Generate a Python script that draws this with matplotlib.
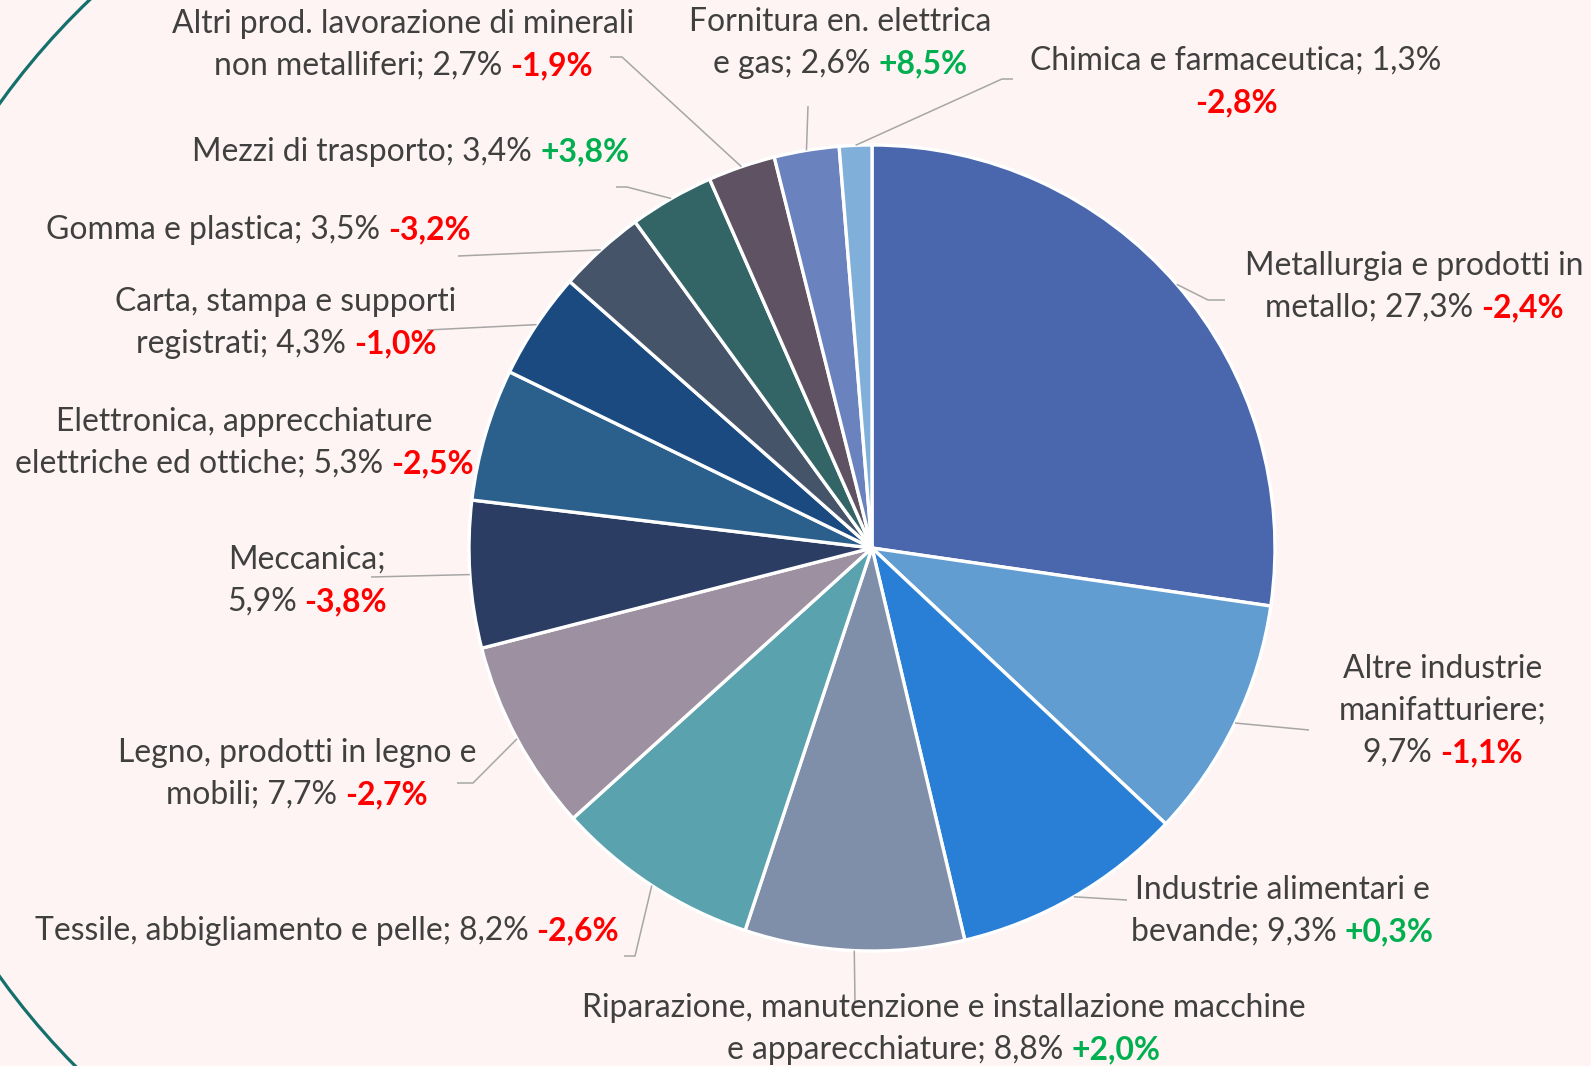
import numpy as np
import matplotlib
matplotlib.use("Agg")
import matplotlib.pyplot as plt
from matplotlib.patches import Arc

# ---------------- data ----------------
categories = [
    "Metallurgia e prodotti in metallo",
    "Altre industrie manifatturiere",
    "Industrie alimentari e bevande",
    "Riparazione, manutenzione e installazione macchine e apparecchiature",
    "Tessile, abbigliamento e pelle",
    "Legno, prodotti in legno e mobili",
    "Meccanica",
    "Elettronica, apprecchiature elettriche ed ottiche",
    "Carta, stampa e supporti registrati",
    "Gomma e plastica",
    "Mezzi di trasporto",
    "Altri prod. lavorazione di minerali non metalliferi",
    "Fornitura en. elettrica e gas",
    "Chimica e farmaceutica",
]
shares = [27.3, 9.7, 9.3, 8.8, 8.2, 7.7, 5.9, 5.3, 4.3, 3.5, 3.4, 2.7, 2.6, 1.3]
changes = [-2.4, -1.1, 0.3, 2.0, -2.6, -2.7, -3.8, -2.5, -1.0, -3.2, 3.8, -1.9, 8.5, -2.8]

# ---------------- style / layout ----------------
colors = ["#4A66AC", "#629DD1", "#297FD5", "#7F8FA9", "#5AA2AE", "#9D90A0",
          "#2C3D64", "#2B5F8C", "#1B4A80", "#465469", "#346566", "#5F5363",
          "#6A82BE", "#80B0DA"]
BG = "#FEF4F3"
GREY = "#404040"
RED = "#FF0000"
GREEN = "#00B050"
LEADER = "#A6A6A6"
FONT = "Lato"

W, H = 1591, 1066
CX, CY, R = 872, 548, 403

# word breaks for the name part, and where the numbers go
wraps = [
    ([4, 1], "same"),
    ([2, 1], "newline"),
    ([3, 1], "same"),
    ([5, 2], "same"),
    ([5], "same"),
    ([5, 1], "same"),
    ([1], "newline"),
    ([2, 3], "same"),
    ([4, 1], "same"),
    ([3], "same"),
    ([3], "same"),
    ([5, 2], "same"),
    ([3, 2], "same"),
    ([3], "chg_newline"),
]
# label centre x, first-line centre y (pixel coords, y down)
label_pos = [
    (1414, 266), (1443, 669), (1282, 890), (944, 1008), (327, 931),
    (297, 753), (307, 560), (244, 422), (286, 302), (258, 230),
    (411, 152), (403, 24), (840, 22), (1236, 61),
]
LINE_H = 41.7
# leader line path after the pie-edge start point (pixel coords); None = no line
leaders = [
    [(1208, 300), (1225, 300)],
    [(1309, 730)],
    [(1127, 900)],
    [(855, 1003)],
    [(635, 956), (624, 956)],
    [(473, 783), (457, 783)],
    [(371, 577)],
    None,
    [(427, 330)],
    [(458, 256)],
    [(627, 187), (616, 187)],
    [(622, 57), (610, 57)],
    [(808, 106)],
    [(1002, 79), (1013, 79)],
]


def fmt_share(v):
    return f"{v:.1f}%".replace(".", ",")


def fmt_chg(v):
    return f"{v:+.1f}%".replace(".", ",")


fig = plt.figure(figsize=(W / 100, H / 100), dpi=100)
fig.patch.set_facecolor(BG)
ax = fig.add_axes([0, 0, 1, 1])
ax.set_facecolor(BG)

# decorative arc on the left
arc = Arc((607, H - 540), 2 * 748, 2 * 748, theta1=125, theta2=235,
          color="#13706C", lw=2.3)
ax.add_patch(arc)

ax.pie(shares, colors=colors, startangle=90, counterclock=False,
       center=(CX, H - CY), radius=R,
       wedgeprops=dict(edgecolor="white", linewidth=2.4))
ax.set_xlim(0, W)
ax.set_ylim(0, H)
ax.set_aspect("auto")
ax.axis("off")

renderer = fig.canvas.get_renderer()


def text_w(s, fs, weight):
    t = ax.text(0, 0, s, fontsize=fs, fontweight=weight, family=FONT)
    w = t.get_window_extent(renderer=renderer).width
    t.remove()
    return w


# fit font size to the reference width of one label line
FS = 20 * 340 / text_w("Metallurgia e prodotti in", 20, "normal")
SPACE = text_w("a a", FS, "normal") - text_w("aa", FS, "normal")


def draw_line(segs, cx, y):
    widths = [text_w(s, FS, wt) for s, c, wt in segs]
    total = sum(widths) + SPACE * (len(segs) - 1)
    x = cx - total / 2
    for (s, c, wt), w in zip(segs, widths):
        ax.text(x, H - y, s, fontsize=FS, fontweight=wt, family=FONT,
                color=c, ha="left", va="center")
        x += w + SPACE


total = sum(shares)
cum = 0.0
for i, name in enumerate(categories):
    v = shares[i]
    mid = np.deg2rad(90 - 360 * (cum + v / 2) / total)
    cum += v
    # leader line
    if leaders[i] is not None:
        sx, sy = CX + R * np.cos(mid), CY - R * np.sin(mid)
        pts = [(sx, sy)] + leaders[i]
        ax.plot([p[0] for p in pts], [H - p[1] for p in pts],
                color=LEADER, lw=1.1, solid_capstyle="butt", zorder=3)
    # label text
    words = name.split()
    breaks, mode = wraps[i]
    name_lines, k = [], 0
    for n in breaks:
        name_lines.append(" ".join(words[k:k + n]))
        k += n
    name_lines[-1] += ";"
    chg_col = GREEN if changes[i] > 0 else RED
    s_txt, c_txt = fmt_share(v), fmt_chg(changes[i])
    lines = [[(t, GREY, "normal")] for t in name_lines]
    if mode == "same":
        lines[-1] = [(name_lines[-1] + " " + s_txt, GREY, "normal"),
                     (c_txt, chg_col, "bold")]
    elif mode == "newline":
        lines.append([(s_txt, GREY, "normal"), (c_txt, chg_col, "bold")])
    else:
        lines[-1] = [(name_lines[-1] + " " + s_txt, GREY, "normal")]
        lines.append([(c_txt, chg_col, "bold")])
    lx, ly = label_pos[i]
    for j, segs in enumerate(lines):
        draw_line(segs, lx, ly + j * LINE_H)

fig.savefig("out.png", dpi=100, facecolor=BG)
